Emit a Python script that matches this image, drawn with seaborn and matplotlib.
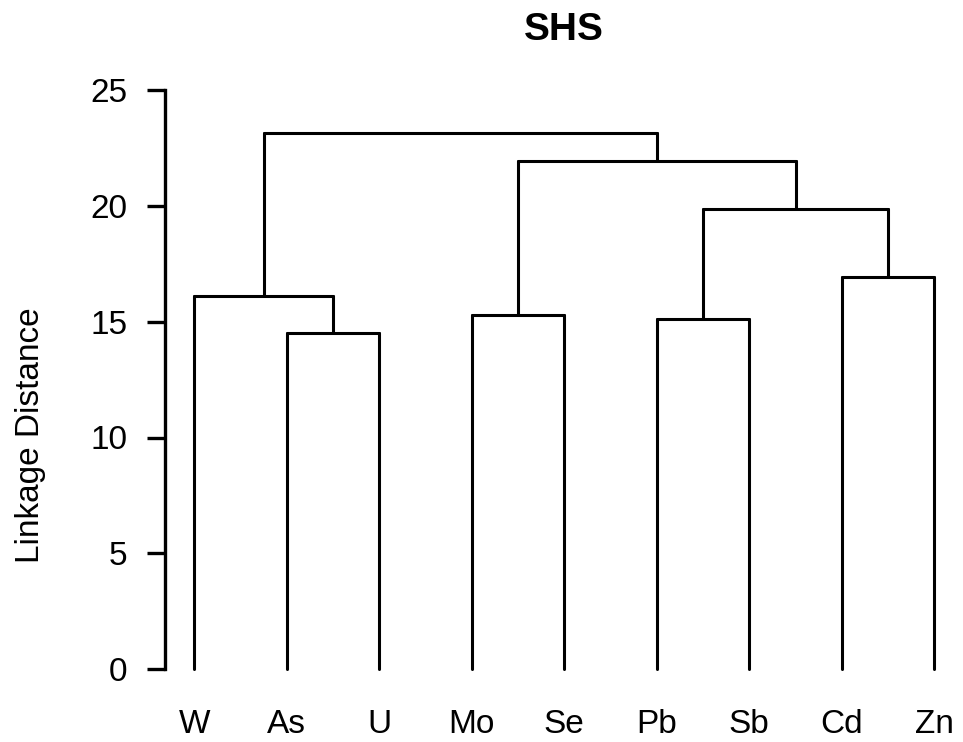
import numpy as np
import pandas as pd
import matplotlib
matplotlib.use("Agg")
import matplotlib.pyplot as plt
import seaborn as sns

# ---- data ----
leaves = ["W", "As", "U", "Mo", "Se", "Pb", "Sb", "Cd", "Zn"]
# merges: children referenced by leaf name or "c<k>" (k = 1-based merge index)
merge_left = ["As", "Pb", "Mo", "W", "Cd", "c2", "c3", "c4"]
merge_right = ["U", "Sb", "Se", "c1", "Zn", "c5", "c6", "c7"]
merge_height = [14.50, 15.10, 15.30, 16.12, 16.91, 19.87, 21.94, 23.12]
yticks = [0, 5, 10, 15, 20, 25]
title = "SHS"
ylabel = "Linkage Distance"

# ---- build segments ----
pos = {name: i + 1 for i, name in enumerate(leaves)}
hgt = {name: 0.0 for name in leaves}
rows = []
seg = 0
for k, (a, b, h) in enumerate(zip(merge_left, merge_right, merge_height), start=1):
    xa, xb = pos[a], pos[b]
    for xs, ys in (([xa, xa], [hgt[a], h]), ([xa, xb], [h, h]), ([xb, xb], [h, hgt[b]])):
        for x, y in zip(xs, ys):
            rows.append({"x": x, "y": y, "seg": seg})
        seg += 1
    name = f"c{k}"
    pos[name] = (xa + xb) / 2
    hgt[name] = h
df = pd.DataFrame(rows)

sns.set_style("ticks", {"axes.edgecolor": "black", "text.color": "black",
                        "xtick.color": "black", "ytick.color": "black",
                        "axes.labelcolor": "black"})
plt.rcParams["font.family"] = ["Liberation Sans", "DejaVu Sans"]

W, H = 963, 742
fig = plt.figure(figsize=(W / 100, H / 100), dpi=100)
left_px, right_px = 164.7, 963.9
y0_px, unit = 669.3, 23.18
ylim = (-1.0, 26.0)
bottom_px = y0_px - ylim[0] * unit
top_px = y0_px - ylim[1] * unit
ax = fig.add_axes([left_px / W, (H - bottom_px) / H,
                   (right_px - left_px) / W, (bottom_px - top_px) / H])

sns.lineplot(data=df, x="x", y="y", units="seg", estimator=None, sort=False,
             color="black", linewidth=2.2, ax=ax, legend=False)

ax.set_xlim(0.68, 9.32)
ax.set_ylim(*ylim)
ax.set_xticks(range(1, len(leaves) + 1))
ax.set_xticklabels(leaves, fontsize=24)
ax.tick_params(axis="x", length=0, pad=12)
ax.set_yticks(yticks)
ax.set_yticklabels([str(t) for t in yticks], fontsize=24)
ax.tick_params(axis="y", length=13, width=2.4, pad=14, direction="out")
for s in ("top", "right", "bottom"):
    ax.spines[s].set_visible(False)
ax.spines["left"].set_bounds(0, 25)
ax.spines["left"].set_linewidth(2.4)
ax.set_xlabel("")
ax.set_ylabel(ylabel, fontsize=24)
ax.yaxis.set_label_coords(-(left_px - 46) / (right_px - left_px), (bottom_px - 435) / (bottom_px - top_px))
fig.text((left_px + right_px) / 2 / W, 1 - 30 / H, title, ha="center", va="center",
         fontsize=28, fontweight="bold")
fig.savefig("out.png", dpi=100, facecolor="white")
